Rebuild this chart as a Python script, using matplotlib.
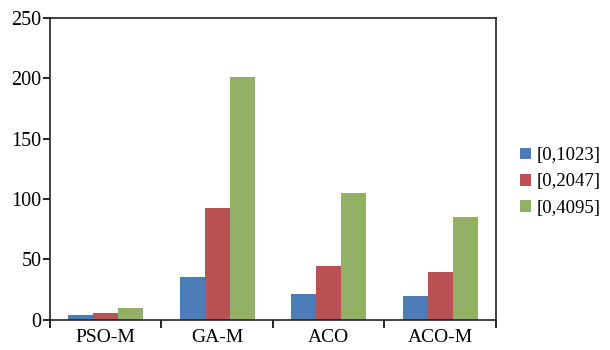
import numpy as np
import matplotlib.pyplot as plt

plt.rcParams['font.family'] = ['Liberation Serif', 'DejaVu Serif']

categories = ['PSO-M', 'GA-M', 'ACO', 'ACO-M']
series_names = ['[0,1023]', '[0,2047]', '[0,4095]']
values_1023 = [3.5, 35.2, 21.1, 19.5]
values_2047 = [5.6, 92.5, 44.6, 39.1]
values_4095 = [9.3, 201, 105, 85]
colors = ['#4C7DB8', '#BA5154', '#93B166']

fig = plt.figure(figsize=(6.1, 3.5), dpi=100)
ax = fig.add_axes([0.082, 0.087, 0.731, 0.862])

x = np.arange(len(categories))
width = 0.224
for i, (vals, name) in enumerate(zip([values_1023, values_2047, values_4095], series_names)):
    ax.bar(x + (i - 1) * width, vals, width, color=colors[i], label=name)

ax.set_xlim(-0.5, len(categories) - 0.5)
ax.set_ylim(0, 250)
ax.set_yticks(np.arange(0, 251, 50))

# boundary ticks as majors, labels on minors
ax.set_xticks(np.arange(-0.5, len(categories), 1.0))
ax.set_xticklabels([])
ax.set_xticks(x, minor=True)
ax.set_xticklabels(categories, minor=True)
ax.tick_params(axis='x', which='major', direction='out', length=6, width=1.2)
ax.tick_params(axis='x', which='minor', length=0, pad=7, labelsize=14)
ax.tick_params(axis='y', direction='out', length=5, width=1.2, labelsize=14.5, pad=1)

for s in ax.spines.values():
    s.set_linewidth(1.2)
    s.set_color('#222222')

leg = ax.legend(loc='center left', bbox_to_anchor=(1.054, 0.456), frameon=False,
                borderpad=0, borderaxespad=0,
                handlelength=0.6, handleheight=0.6, handletextpad=0.3,
                labelspacing=0.5, fontsize=13.5)

fig.savefig('out.png', dpi=100)
